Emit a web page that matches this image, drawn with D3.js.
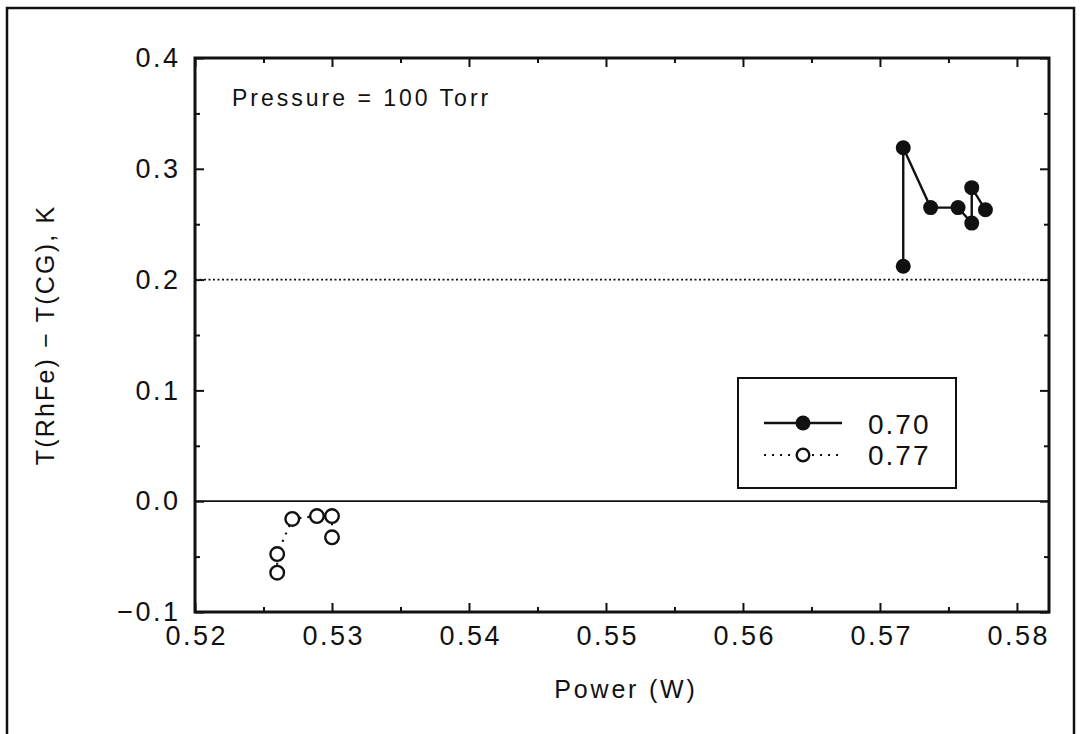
<!DOCTYPE html>
<html>
<head>
<meta charset="utf-8">
<script src="https://cdn.jsdelivr.net/npm/d3@7/dist/d3.min.js"></script>
<style>
  body { margin: 0; background: #fff; }
  text { font-family: "Liberation Sans", Arial, Helvetica, sans-serif; fill: #111; }
</style>
</head>
<body>
<script>

// data (power in W, temperature difference in K)
var powerA = [0.5717, 0.5717, 0.5737, 0.5757, 0.5767, 0.5767, 0.5777];
var deltaA = [0.212, 0.319, 0.265, 0.265, 0.251, 0.283, 0.263];

var powerB = [0.5260, 0.5260, 0.5271, 0.5289, 0.5300, 0.5300];
var deltaB = [-0.0645, -0.0477, -0.0160, -0.0134, -0.0134, -0.0326];

var seriesNames = ["0.70", "0.77"];

var xTicks = [0.52, 0.53, 0.54, 0.55, 0.56, 0.57, 0.58];
var xMinorTicks = [0.525, 0.535, 0.545, 0.555, 0.565, 0.575];
var yTicks = [-0.1, 0.0, 0.1, 0.2, 0.3, 0.4];
var yMinorTicks = [-0.05, 0.05, 0.15, 0.25, 0.35];
var refLevel = 0.2;

var seriesA = powerA.map(function (p, i) { return { x: p, y: deltaA[i] }; });
var seriesB = powerB.map(function (p, i) { return { x: p, y: deltaB[i] }; });

var margin = { top: 58, right: 33, bottom: 122, left: 195 };
var width = 1082 - margin.left - margin.right,
    height = 734 - margin.top - margin.bottom;

var svg = d3.select("body").append("svg")
    .attr("width", 1082)
    .attr("height", 734);

// outer frame around the whole figure (open at the bottom)
svg.append("rect")
    .attr("x", 7).attr("y", 8)
    .attr("width", 1067).attr("height", 760)
    .attr("fill", "none")
    .attr("stroke", "#111")
    .attr("stroke-width", 2.5);

var g = svg.append("g")
    .attr("transform", "translate(" + margin.left + "," + margin.top + ")");

var xScale = d3.scaleLinear().domain([0.52, 0.58234]).range([0, width]);
var yScale = d3.scaleLinear().domain([-0.1, 0.4]).range([height, 0]);

var tickFont = "27px", ls = 2.5;

// bottom axis: inward ticks
var xAxis = g.append("g")
    .attr("transform", "translate(0," + height + ")")
    .call(d3.axisBottom(xScale).tickValues(xTicks).tickSize(-9).tickPadding(14)
        .tickFormat(d3.format(".2f")));
g.append("g")
    .attr("transform", "translate(0," + height + ")")
    .call(d3.axisBottom(xScale).tickValues(xMinorTicks).tickSize(-5).tickFormat(""));

// top axis: ticks only
g.append("g")
    .call(d3.axisTop(xScale).tickValues(xTicks).tickSize(-9).tickFormat(""));
g.append("g")
    .call(d3.axisTop(xScale).tickValues(xMinorTicks).tickSize(-5).tickFormat(""));

// left axis
var yAxis = g.append("g")
    .call(d3.axisLeft(yScale).tickValues(yTicks).tickSize(-9).tickPadding(17 - ls)
        .tickFormat(function (d) { return d3.format(".1f")(d).replace("-", "\u2212"); }));
g.append("g")
    .call(d3.axisLeft(yScale).tickValues(yMinorTicks).tickSize(-5).tickFormat(""));

// right axis: ticks only
g.append("g")
    .attr("transform", "translate(" + width + ",0)")
    .call(d3.axisRight(yScale).tickValues(yTicks).tickSize(-9).tickFormat(""));
g.append("g")
    .attr("transform", "translate(" + width + ",0)")
    .call(d3.axisRight(yScale).tickValues(yMinorTicks).tickSize(-5).tickFormat(""));

g.selectAll(".domain").remove();
g.selectAll(".tick line").attr("stroke", "#111").attr("stroke-width", 2);
g.selectAll(".tick text")
    .style("font-family", "'Liberation Sans', Arial, sans-serif")
    .style("font-size", tickFont)
    .style("letter-spacing", ls + "px")
    .attr("fill", "#111");
xAxis.selectAll(".tick text").attr("dx", ls / 2);

// zero line and dotted reference line
g.append("line")
    .attr("x1", 0).attr("x2", width)
    .attr("y1", yScale(0)).attr("y2", yScale(0))
    .attr("stroke", "#111").attr("stroke-width", 1.8);
g.append("line")
    .attr("x1", 0).attr("x2", width)
    .attr("y1", yScale(refLevel)).attr("y2", yScale(refLevel))
    .attr("stroke", "#111").attr("stroke-width", 1.6)
    .attr("stroke-dasharray", "2,2.5");

// plot frame
g.append("rect")
    .attr("width", width).attr("height", height)
    .attr("fill", "none")
    .attr("stroke", "#111")
    .attr("stroke-width", 3);

var line = d3.line()
    .x(function (d) { return xScale(d.x); })
    .y(function (d) { return yScale(d.y); });

// series 0.70 - solid with filled dots
g.append("path")
    .datum(seriesA)
    .attr("d", line)
    .attr("fill", "none")
    .attr("stroke", "#111")
    .attr("stroke-width", 2.4);
g.selectAll(".dotA")
    .data(seriesA)
    .enter().append("circle")
    .attr("class", "dotA")
    .attr("cx", function (d) { return xScale(d.x); })
    .attr("cy", function (d) { return yScale(d.y); })
    .attr("r", 7.5)
    .attr("fill", "#111");

// series 0.77 - dotted with open circles
g.append("path")
    .datum(seriesB)
    .attr("d", line)
    .attr("fill", "none")
    .attr("stroke", "#111")
    .attr("stroke-width", 2.2)
    .attr("stroke-dasharray", "2,6");
g.selectAll(".dotB")
    .data(seriesB)
    .enter().append("circle")
    .attr("class", "dotB")
    .attr("cx", function (d) { return xScale(d.x); })
    .attr("cy", function (d) { return yScale(d.y); })
    .attr("r", 6.8)
    .attr("fill", "#fff")
    .attr("stroke", "#111")
    .attr("stroke-width", 2.4);

// annotation
svg.append("text")
    .attr("x", 232).attr("y", 106)
    .style("font-size", "23px")
    .style("letter-spacing", "3px")
    .text("Pressure = 100 Torr");

// legend
var legend = svg.append("g");
legend.append("rect")
    .attr("x", 738).attr("y", 378)
    .attr("width", 218).attr("height", 110)
    .attr("fill", "#fff")
    .attr("stroke", "#111")
    .attr("stroke-width", 2);

legend.append("line")
    .attr("x1", 764).attr("x2", 842).attr("y1", 423).attr("y2", 423)
    .attr("stroke", "#111").attr("stroke-width", 2.4);
legend.append("circle")
    .attr("cx", 803).attr("cy", 423).attr("r", 7.5).attr("fill", "#111");
legend.append("line")
    .attr("x1", 764).attr("x2", 840).attr("y1", 455).attr("y2", 455)
    .attr("stroke", "#111").attr("stroke-width", 2.2).attr("stroke-dasharray", "2,6");
legend.append("circle")
    .attr("cx", 803).attr("cy", 455).attr("r", 6.3)
    .attr("fill", "#fff").attr("stroke", "#111").attr("stroke-width", 2.4);

legend.selectAll(".legText")
    .data(seriesNames)
    .enter().append("text")
    .attr("class", "legText")
    .attr("x", 868)
    .attr("y", function (d, i) { return 434 + i * 31; })
    .style("font-size", "28px")
    .style("letter-spacing", "2px")
    .text(function (d) { return d; });

// axis titles
svg.append("text")
    .attr("x", 626).attr("y", 698)
    .attr("text-anchor", "middle")
    .style("font-size", "25px")
    .style("letter-spacing", "2.8px")
    .text("Power (W)");

svg.append("text")
    .attr("transform", "translate(54," + (margin.top + height / 2) + ") rotate(-90)")
    .attr("text-anchor", "middle")
    .style("font-size", "25px")
    .style("letter-spacing", "2.2px")
    .text("T(RhFe) \u2212 T(CG), K");

</script>
</body>
</html>
